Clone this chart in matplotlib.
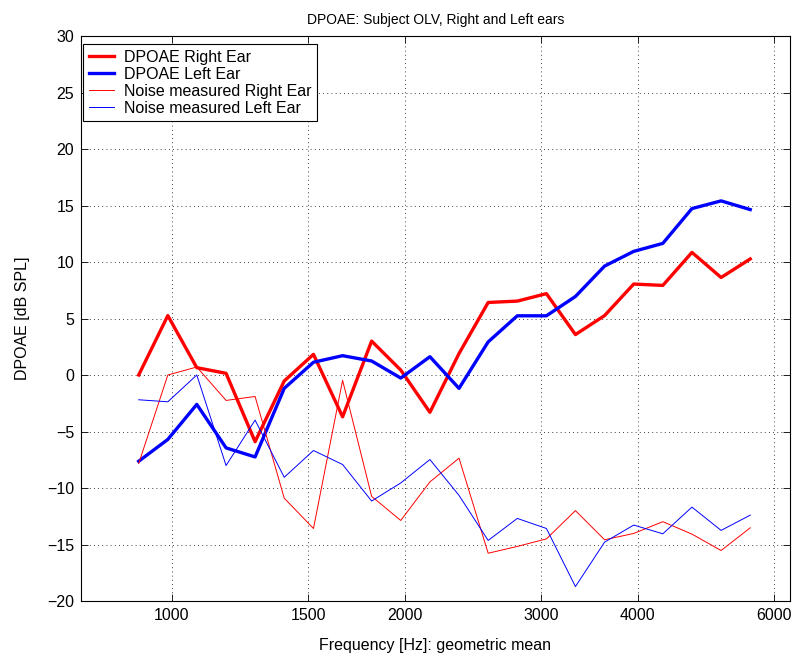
import matplotlib
matplotlib.use("Agg")
import matplotlib.pyplot as plt
from matplotlib.ticker import FixedLocator, FixedFormatter, NullLocator

plt.rcParams['font.family'] = ['Liberation Sans', 'DejaVu Sans']

# band centre frequencies (geometric mean), Hz
freqs = [906, 988, 1077, 1175, 1281, 1397, 1524, 1662, 1812, 1976, 2155,
         2350, 2563, 2795, 3048, 3323, 3624, 3952, 4310, 4700, 5126, 5590]

dpoae_right = [0.0, 5.26, 0.65, 0.15, -5.9, -0.53, 1.83, -3.7, 3.0, 0.44, -3.3,
               1.9, 6.42, 6.54, 7.2, 3.58, 5.26, 8.05, 7.93, 10.85, 8.63, 10.27]
dpoae_left = [-7.63, -5.7, -2.6, -6.45, -7.25, -1.18, 1.13, 1.71, 1.24, -0.27, 1.62,
              -1.18, 2.93, 5.24, 5.24, 6.95, 9.64, 10.94, 11.65, 14.73, 15.41, 14.64]
noise_right = [-7.84, 0.0, 0.71, -2.25, -1.9, -10.9, -13.58, -0.47, -10.74, -12.87, -9.46,
               -7.36, -15.77, -15.17, -14.5, -12.0, -14.58, -14.02, -12.98, -14.08, -15.53, -13.52]
noise_left = [-2.19, -2.37, 0.0, -8.01, -3.99, -9.05, -6.68, -7.92, -11.15, -9.55, -7.48,
              -10.65, -14.64, -12.69, -13.58, -18.72, -14.79, -13.28, -14.05, -11.69, -13.75, -12.4]

xticks = [1000, 1500, 2000, 3000, 4000, 6000]
xticklabels = ['1000', '1500', '2000', '3000', '4000', '6000']

fig = plt.figure(figsize=(7.93, 6.57), dpi=100)
ax = fig.add_axes([0.1021, 0.0852, 0.8941, 0.86])

ax.plot(freqs, dpoae_right, color='#ff0000', lw=2.4, label='DPOAE Right Ear')
ax.plot(freqs, dpoae_left, color='#0000ff', lw=2.4, label='DPOAE Left Ear')
ax.plot(freqs, noise_right, color='#ff0000', lw=0.7, label='Noise measured Right Ear')
ax.plot(freqs, noise_left, color='#0000ff', lw=0.7, label='Noise measured Left Ear')

ax.set_xscale('log')
ax.set_xlim(763, 6292)
ax.set_ylim(-20, 30)
ax.xaxis.set_major_locator(FixedLocator(xticks))
ax.xaxis.set_major_formatter(FixedFormatter(xticklabels))
ax.xaxis.set_minor_locator(NullLocator())
ax.set_yticks(range(-20, 31, 5))

ax.tick_params(direction='in', top=True, right=True, length=5, width=0.6,
               labelsize=11.5, pad=5)
ax.grid(True, color='black', linestyle=(0, (1, 4)), linewidth=0.6)
for s in ax.spines.values():
    s.set_linewidth(0.8)

ax.set_title('DPOAE: Subject OLV, Right and Left ears', fontsize=10, pad=9)
ax.set_xlabel('Frequency [Hz]: geometric mean', fontsize=11.5, labelpad=11)
ax.set_ylabel('DPOAE [dB SPL]', fontsize=11.5, labelpad=12)

leg = ax.legend(loc='upper left', bbox_to_anchor=(0.003, 0.985), borderaxespad=0,
                fancybox=False, framealpha=1, edgecolor='black', fontsize=11.5,
                handlelength=1.6, handletextpad=0.6, labelspacing=0.12,
                borderpad=0.35)
leg.get_frame().set_linewidth(0.8)

fig.savefig('out.png', dpi=100)
